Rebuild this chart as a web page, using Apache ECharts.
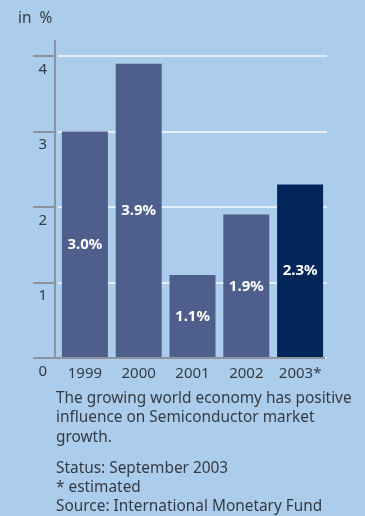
<!DOCTYPE html>
<html>
<head>
<meta charset="utf-8">
<style>
  html, body { margin: 0; padding: 0; background: #abcdeb; }
  #chart { width: 365px; height: 516px; }
</style>
<script src="https://cdn.jsdelivr.net/npm/echarts@6/dist/echarts.min.js"></script>
</head>
<body>
<div id="chart"></div>
<script>
// Real GDP growth of the world economy, in %
const years = ['1999', '2000', '2001', '2002', '2003*'];
const growth = [3.0, 3.9, 1.1, 1.9, 2.3];
const estimatedIndex = 4;
const yTicks = [0, 1, 2, 3, 4];

const captionLines = [
  'The growing world economy has positive',
  'influence on Semiconductor market',
  'growth.'
];
const noteLines = [
  'Status: September 2003',
  '* estimated',
  'Source: International Monetary Fund'
];

const FONT = '"Noto Sans", "Open Sans", sans-serif';
const TEXT = '#343a44';
const AXIS = '#8e949c';
const BODY_SIZE = 15.4;

const chart = echarts.init(document.getElementById('chart'), null, { renderer: 'canvas' });

const textItems = [];
captionLines.forEach((t, i) => textItems.push({
  type: 'text', left: 56, top: 391 + i * 19.5,
  style: { text: t, fill: TEXT, font: BODY_SIZE + 'px ' + FONT }
}));
noteLines.forEach((t, i) => textItems.push({
  type: 'text', left: 56, top: 461 + i * 19,
  style: { text: t, fill: TEXT, font: BODY_SIZE + 'px ' + FONT }
}));
textItems.push({
  type: 'text', left: 18, top: 11,
  style: { text: 'in  %', fill: TEXT, font: BODY_SIZE + 'px ' + FONT }
});

chart.setOption({
  backgroundColor: '#abcdeb',
  animation: false,
  textStyle: { fontFamily: FONT },
  // the value axis runs a little past 4 so its line rises above the top gridline
  grid: { left: 58, right: 38, top: 41, height: 317 },
  xAxis: {
    type: 'category',
    data: years,
    axisLine: { show: false },
    axisTick: { show: false },
    axisLabel: { color: TEXT, fontSize: 15, margin: 8, interval: 0 }
  },
  yAxis: [{
    type: 'value',
    min: 0, max: 4.2, interval: 1,
    offset: 3,
    axisLine: { show: true, lineStyle: { color: AXIS, width: 2 } },
    axisTick: {
      show: true, inside: false, length: 22,
      customValues: yTicks,
      lineStyle: { color: AXIS, width: 2 }
    },
    axisLabel: {
      color: TEXT, fontSize: 15, margin: 8,
      customValues: yTicks,
      verticalAlign: 'top', padding: [6, 0, 0, 0],
      formatter: v => yTicks.includes(v) ? String(v) : ''
    },
    splitLine: { show: true, lineStyle: { color: '#e4eef9', width: 2 } }
  }],
  series: [{
    type: 'bar',
    data: growth.map((v, i) => ({
      value: v,
      itemStyle: { color: i === estimatedIndex ? '#02265a' : '#4e5f8e' }
    })),
    barWidth: 46,
    label: {
      show: true, position: 'inside', color: '#ffffff',
      fontWeight: 'bold', fontSize: 15, fontFamily: FONT,
      formatter: p => p.value.toFixed(1) + '%'
    },
    z: 3
  }, {
    // baseline drawn across the plot, extended left like the ticks
    type: 'line',
    data: [],
    markLine: {
      silent: true, symbol: 'none',
      lineStyle: { color: AXIS, width: 2, type: 'solid' },
      label: { show: false },
      data: [[{ x: 33, yAxis: 0 }, { x: 325, yAxis: 0 }]]
    },
    z: 4
  }],
  graphic: textItems
});
</script>
</body>
</html>
